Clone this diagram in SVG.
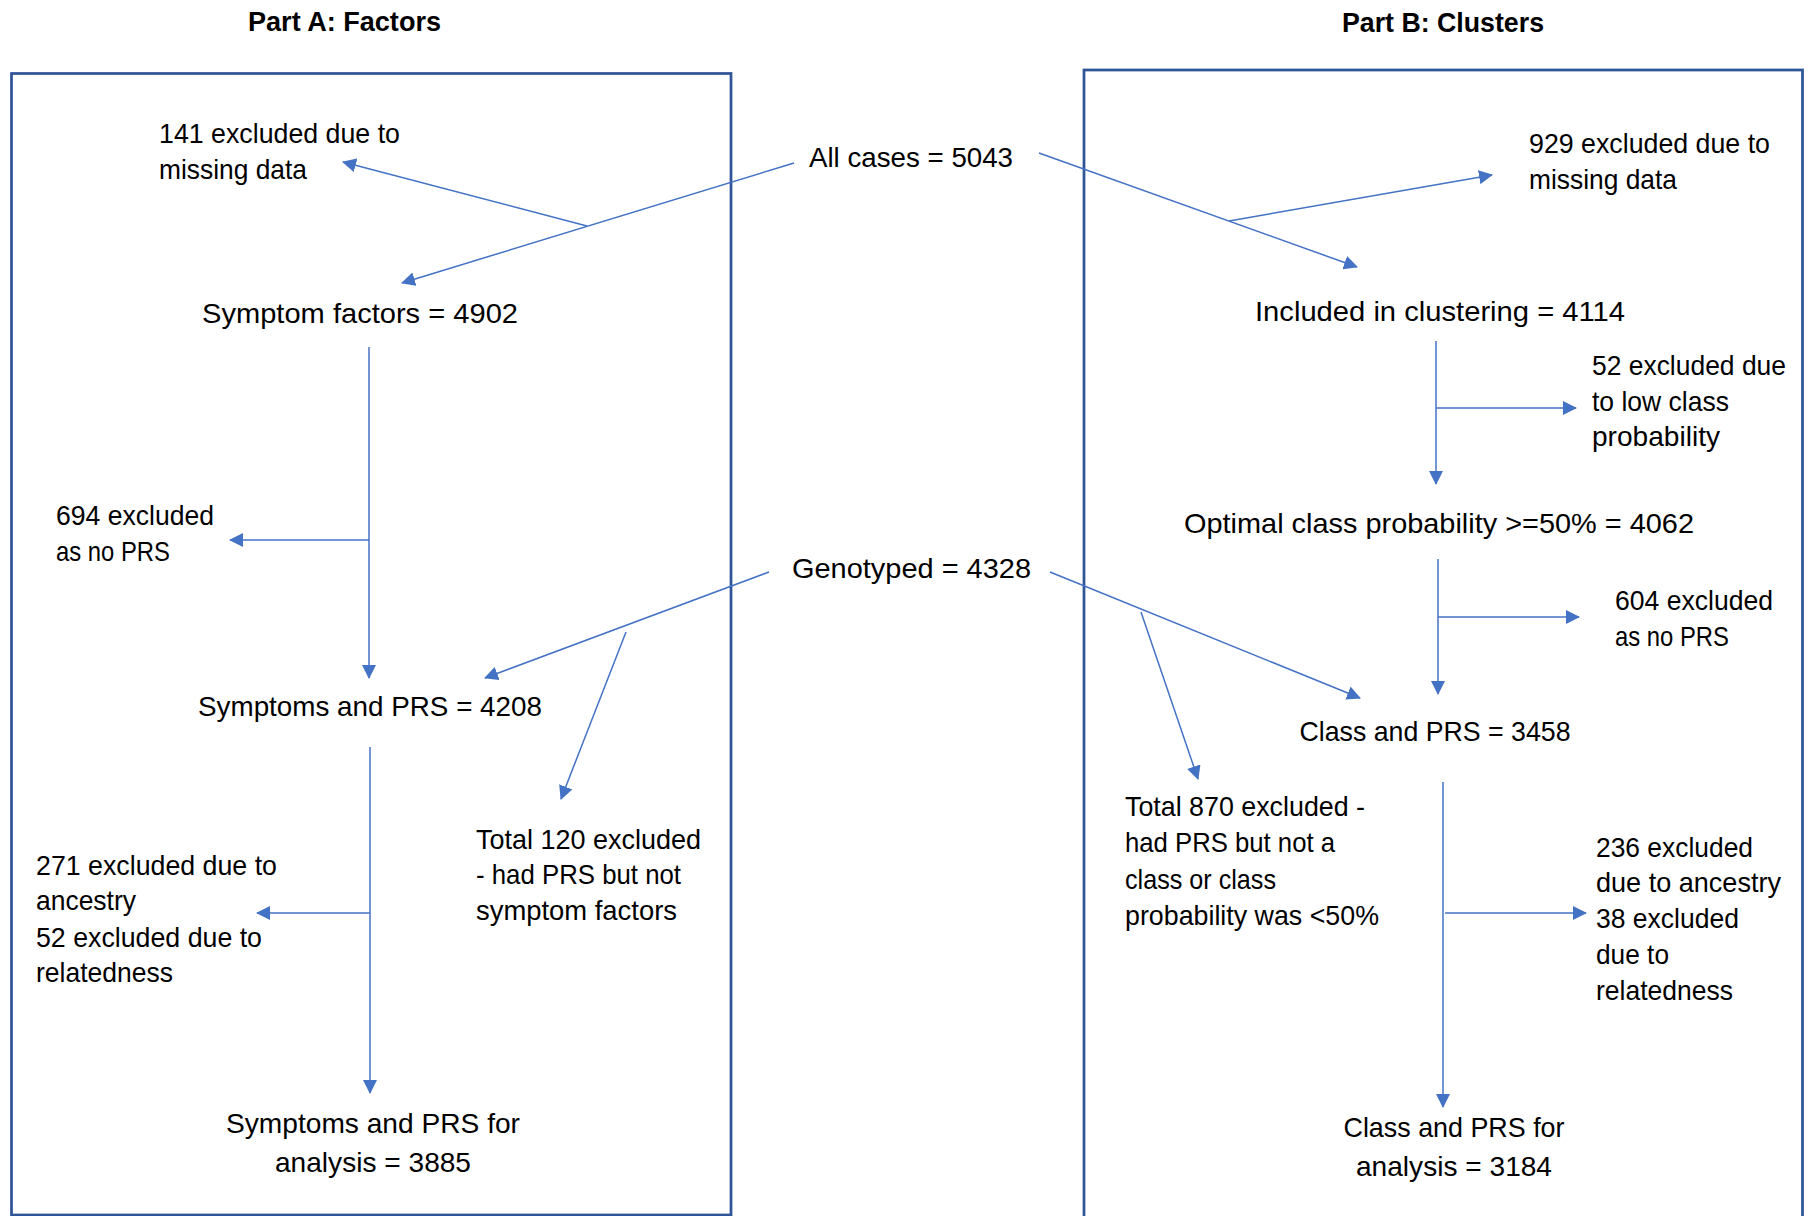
<svg xmlns="http://www.w3.org/2000/svg" width="1809" height="1216" viewBox="0 0 1809 1216">
  <style>
    .t { font-family: "Liberation Sans", Arial, sans-serif; font-size: 28px; fill: #000; }
    .c { text-anchor: middle; }
    .h { font-family: "Liberation Sans", Arial, sans-serif; font-size: 27px; font-weight: bold; fill: #000; text-anchor: middle; }
    .box { fill: none; stroke: #2F5597; stroke-width: 2.75; }
    .ln { fill: none; stroke: #4472C4; stroke-width: 1.5; }
    .ar { marker-end: url(#arrow); }
  </style>
  <defs>
    <marker id="arrow" viewBox="0 0 14 14" refX="13" refY="7" markerWidth="14" markerHeight="14" markerUnits="userSpaceOnUse" orient="auto">
      <path d="M0,0 L14,7 L0,14 z" fill="#4472C4"/>
    </marker>
  </defs>
  <rect width="1809" height="1216" fill="#fff"/>

  <g id="titles">
    <text class="h" x="344.5" y="31" textLength="193" lengthAdjust="spacingAndGlyphs">Part A: Factors</text>
    <text class="h" x="1443" y="32" textLength="202" lengthAdjust="spacingAndGlyphs">Part B: Clusters</text>
  </g>

  <g id="panels">
    <rect id="panel-a" class="box" x="11.5" y="73.5" width="719.5" height="1141.5"/>
    <rect id="panel-b" class="box" x="1084" y="70" width="718.5" height="1160"/>
  </g>

  <g id="connectors">
    <!-- Part A -->
    <line class="ln ar" x1="794" y1="163" x2="402" y2="283"/>
    <line class="ln ar" x1="587" y1="226" x2="343" y2="162"/>
    <line class="ln ar" x1="369" y1="347" x2="369" y2="678"/>
    <line class="ln ar" x1="369" y1="540" x2="230" y2="540"/>
    <line class="ln ar" x1="769" y1="572" x2="485" y2="678"/>
    <line class="ln ar" x1="626" y1="632" x2="561" y2="799"/>
    <line class="ln ar" x1="370" y1="747" x2="370" y2="1093"/>
    <line class="ln ar" x1="370" y1="913" x2="257" y2="913"/>
    <!-- Part B -->
    <line class="ln ar" x1="1039" y1="153" x2="1357" y2="267"/>
    <line class="ln ar" x1="1229" y1="221" x2="1492" y2="175"/>
    <line class="ln ar" x1="1436" y1="341" x2="1436" y2="484"/>
    <line class="ln ar" x1="1436" y1="408" x2="1576" y2="408"/>
    <line class="ln ar" x1="1438" y1="559" x2="1438" y2="694"/>
    <line class="ln ar" x1="1438" y1="617" x2="1579" y2="617"/>
    <line class="ln ar" x1="1050" y1="572" x2="1360" y2="698"/>
    <line class="ln ar" x1="1141" y1="612" x2="1198" y2="779"/>
    <line class="ln ar" x1="1443" y1="782" x2="1443" y2="1107"/>
    <line class="ln ar" x1="1445" y1="913" x2="1586" y2="913"/>
  </g>

  <g id="all-cases">
    <text class="t" x="809" y="167" textLength="204" lengthAdjust="spacingAndGlyphs">All cases = 5043</text>
  </g>
  <g id="genotyped">
    <text class="t" x="792" y="578" textLength="239" lengthAdjust="spacingAndGlyphs">Genotyped = 4328</text>
  </g>

  <g id="a-excl-missing">
    <text class="t" x="159" y="143" textLength="241" lengthAdjust="spacingAndGlyphs">141 excluded due to</text>
    <text class="t" x="159" y="179" textLength="148" lengthAdjust="spacingAndGlyphs">missing data</text>
  </g>
  <g id="a-symptom-factors">
    <text class="t c" x="360" y="323" textLength="316" lengthAdjust="spacingAndGlyphs">Symptom factors = 4902</text>
  </g>
  <g id="a-excl-noprs">
    <text class="t" x="56" y="525" textLength="158" lengthAdjust="spacingAndGlyphs">694 excluded</text>
    <text class="t" x="56" y="561" textLength="114" lengthAdjust="spacingAndGlyphs">as no PRS</text>
  </g>
  <g id="a-symptoms-prs">
    <text class="t c" x="370" y="716" textLength="344" lengthAdjust="spacingAndGlyphs">Symptoms and PRS = 4208</text>
  </g>
  <g id="a-excl-total">
    <text class="t" x="476" y="849" textLength="225" lengthAdjust="spacingAndGlyphs">Total 120 excluded</text>
    <text class="t" x="476" y="884" textLength="205" lengthAdjust="spacingAndGlyphs">- had PRS but not</text>
    <text class="t" x="476" y="920" textLength="201" lengthAdjust="spacingAndGlyphs">symptom factors</text>
  </g>
  <g id="a-excl-ancestry">
    <text class="t" x="36" y="875" textLength="241" lengthAdjust="spacingAndGlyphs">271 excluded due to</text>
    <text class="t" x="36" y="910" textLength="100" lengthAdjust="spacingAndGlyphs">ancestry</text>
    <text class="t" x="36" y="947" textLength="226" lengthAdjust="spacingAndGlyphs">52 excluded due to</text>
    <text class="t" x="36" y="982" textLength="137" lengthAdjust="spacingAndGlyphs">relatedness</text>
  </g>
  <g id="a-final">
    <text class="t c" x="373" y="1133" textLength="294" lengthAdjust="spacingAndGlyphs">Symptoms and PRS for</text>
    <text class="t c" x="373" y="1172" textLength="196" lengthAdjust="spacingAndGlyphs">analysis = 3885</text>
  </g>

  <g id="b-excl-missing">
    <text class="t" x="1529" y="153" textLength="241" lengthAdjust="spacingAndGlyphs">929 excluded due to</text>
    <text class="t" x="1529" y="189" textLength="148" lengthAdjust="spacingAndGlyphs">missing data</text>
  </g>
  <g id="b-included">
    <text class="t c" x="1440" y="321" textLength="370" lengthAdjust="spacingAndGlyphs">Included in clustering = 4114</text>
  </g>
  <g id="b-excl-lowprob">
    <text class="t" x="1592" y="375" textLength="194" lengthAdjust="spacingAndGlyphs">52 excluded due</text>
    <text class="t" x="1592" y="411" textLength="137" lengthAdjust="spacingAndGlyphs">to low class</text>
    <text class="t" x="1592" y="446" textLength="128" lengthAdjust="spacingAndGlyphs">probability</text>
  </g>
  <g id="b-optimal">
    <text class="t c" x="1439" y="533" textLength="510" lengthAdjust="spacingAndGlyphs">Optimal class probability &gt;=50% = 4062</text>
  </g>
  <g id="b-excl-noprs">
    <text class="t" x="1615" y="610" textLength="158" lengthAdjust="spacingAndGlyphs">604 excluded</text>
    <text class="t" x="1615" y="646" textLength="114" lengthAdjust="spacingAndGlyphs">as no PRS</text>
  </g>
  <g id="b-class-prs">
    <text class="t c" x="1435" y="741" textLength="271" lengthAdjust="spacingAndGlyphs">Class and PRS = 3458</text>
  </g>
  <g id="b-excl-total">
    <text class="t" x="1125" y="816" textLength="240" lengthAdjust="spacingAndGlyphs">Total 870 excluded -</text>
    <text class="t" x="1125" y="852" textLength="210" lengthAdjust="spacingAndGlyphs">had PRS but not a</text>
    <text class="t" x="1125" y="889" textLength="151" lengthAdjust="spacingAndGlyphs">class or class</text>
    <text class="t" x="1125" y="925" textLength="254" lengthAdjust="spacingAndGlyphs">probability was &lt;50%</text>
  </g>
  <g id="b-excl-ancestry">
    <text class="t" x="1596" y="857" textLength="157" lengthAdjust="spacingAndGlyphs">236 excluded</text>
    <text class="t" x="1596" y="892" textLength="185" lengthAdjust="spacingAndGlyphs">due to ancestry</text>
    <text class="t" x="1596" y="928" textLength="143" lengthAdjust="spacingAndGlyphs">38 excluded</text>
    <text class="t" x="1596" y="964" textLength="73" lengthAdjust="spacingAndGlyphs">due to</text>
    <text class="t" x="1596" y="1000" textLength="137" lengthAdjust="spacingAndGlyphs">relatedness</text>
  </g>
  <g id="b-final">
    <text class="t c" x="1454" y="1137" textLength="221" lengthAdjust="spacingAndGlyphs">Class and PRS for</text>
    <text class="t c" x="1454" y="1176" textLength="196" lengthAdjust="spacingAndGlyphs">analysis = 3184</text>
  </g>
</svg>
